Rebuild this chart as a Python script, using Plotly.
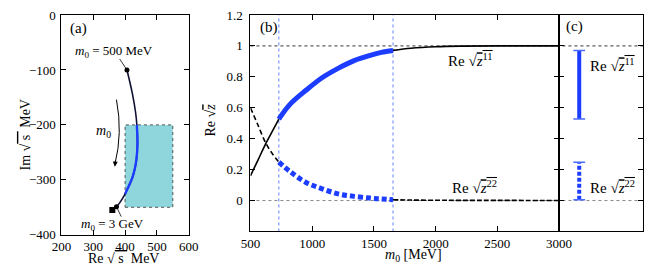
import plotly.graph_objects as go

# ---------------- data ----------------
# panel (a): pole trajectory in complex sqrt(s) plane [MeV]
traj_re = [406, 423, 433, 437, 439, 436, 431, 423, 408, 400, 393, 383, 373]
traj_im = [-100, -143, -177, -200, -234, -262, -279, -296, -316, -326, -333, -342, -349]
end_square = ([360], [-355])
box_re = [400, 550]
box_im = [-350, -200]

# panel (b): Re sqrt(z) vs m0 [MeV]
m0 = [500, 560, 625, 680, 730, 820, 950, 1080, 1210, 1340, 1470, 1560, 1655,
      1800, 2000, 2200, 2500, 3000]
re_z11 = [0.16, 0.26, 0.37, 0.452, 0.527, 0.622, 0.713, 0.794, 0.855, 0.905,
          0.939, 0.958, 0.971, 0.985, 0.995, 0.999, 1.0, 1.0]
re_z22 = [0.60, 0.49, 0.37, 0.30, 0.248, 0.188, 0.117, 0.076, 0.043, 0.027,
          0.016, 0.010, 0.005, 0.003, 0.002, 0.001, 0.001, 0.0]
m_lo, m_hi = 730, 1655

x_ticks_a = [200, 300, 400, 500, 600]
y_ticks_a = [-400, -300, -200, -100, 0]
x_ticks_b = [500, 1000, 1500, 2000, 2500, 3000]
y_ticks_b = [-0.2, 0, 0.2, 0.4, 0.6, 0.8, 1.0, 1.2]
y_text_b = ["", "0", "0.2", "0.4", "0.6", "0.8", "1", "1.2"]

BLUE = "#1c3dff"
CYAN = "#8ed6db"
FONT = "Liberation Serif"
PAGE_W, PAGE_H = 664, 280
BODY = 8  # default page margin around the figure
W, H = PAGE_W - 2 * BODY, PAGE_H - 2 * BODY


def px(p):
    return min(1.0, max(0.0, (p - BODY) / W))


def py(p):
    return min(1.0, max(0.0, 1 - (p - BODY) / H))


ol = lambda s: "<span style='text-decoration:overline'>" + s + "</span>"

fig = go.Figure()

# ---- panel (a) ----
fig.add_trace(go.Scatter(
    x=[box_re[0], box_re[1], box_re[1], box_re[0], box_re[0]],
    y=[box_im[0], box_im[0], box_im[1], box_im[1], box_im[0]],
    fill="toself", fillcolor=CYAN, mode="lines",
    line=dict(color="#555555", width=1, dash="dot"),
    xaxis="x", yaxis="y", hoverinfo="skip"))
fig.add_trace(go.Scatter(x=traj_re, y=traj_im, mode="lines",
                         line=dict(color="#111133", width=1.6, shape="spline"),
                         xaxis="x", yaxis="y"))
blue_idx = [i for i in range(len(traj_re)) if traj_re[i] >= box_re[0] and traj_im[i] <= box_im[1]]
fig.add_trace(go.Scatter(x=[traj_re[i] for i in blue_idx], y=[traj_im[i] for i in blue_idx],
                         mode="lines", line=dict(color=BLUE, width=2.4, shape="spline"),
                         xaxis="x", yaxis="y"))
fig.add_trace(go.Scatter(x=[traj_re[0], traj_re[-1]], y=[traj_im[0], traj_im[-1]],
                         mode="markers", marker=dict(color="black", size=5),
                         xaxis="x", yaxis="y"))
fig.add_trace(go.Scatter(x=end_square[0], y=end_square[1], mode="markers",
                         marker=dict(color="black", size=6, symbol="square"),
                         xaxis="x", yaxis="y"))

# ---- panel (b) ----
def seg(xs, ys, lo, hi):
    return ([x for x in xs if lo <= x <= hi], [y for x, y in zip(xs, ys) if lo <= x <= hi])

for lo, hi, col, w in [(500, m_lo, "black", 1.6), (m_hi, 3000, "black", 1.6), (m_lo, m_hi, BLUE, 5)]:
    xs, ys = seg(m0, re_z11, lo, hi)
    fig.add_trace(go.Scatter(x=xs, y=ys, mode="lines",
                             line=dict(color=col, width=w, shape="spline"),
                             xaxis="x2", yaxis="y2"))
for lo, hi, col, w, d in [(500, m_lo, "black", 1.6, "5px,3px"), (m_hi, 3000, "black", 1.6, "5px,2px"),
                          (m_lo, m_hi, BLUE, 5, "5px,3px")]:
    xs, ys = seg(m0, re_z22, lo, hi)
    fig.add_trace(go.Scatter(x=xs, y=ys, mode="lines",
                             line=dict(color=col, width=w, shape="spline", dash=d),
                             xaxis="x2", yaxis="y2"))

# ---- panel (c): ranges ----
xc = 0.24
cap = 0.07
blue11 = [v for x, v in zip(m0, re_z11) if m_lo <= x <= m_hi]
blue22 = [v for x, v in zip(m0, re_z22) if m_lo <= x <= m_hi]
for vals, dash in [(blue11, "solid"), (blue22, "4px,2px")]:
    lo_v, hi_v = min(vals), max(vals)
    fig.add_trace(go.Scatter(x=[xc, xc], y=[lo_v, hi_v], mode="lines",
                             line=dict(color=BLUE, width=4, dash=dash),
                             xaxis="x3", yaxis="y3"))
    for v in (lo_v, hi_v):
        fig.add_trace(go.Scatter(x=[xc - cap, xc + cap], y=[v, v], mode="lines",
                                 line=dict(color="#4a6bff", width=1.5),
                                 xaxis="x3", yaxis="y3"))

# ---- layout ----
def axis(**kw):
    d = dict(showline=True, linecolor="black", linewidth=1, mirror="ticks",
             ticks="inside", ticklen=5, tickcolor="black", showgrid=False,
             zeroline=False, ticklabeloverflow="allow",
             tickfont=dict(family=FONT, size=13, color="black"))
    d.update(kw)
    return d


fig.update_layout(
    width=W, height=H, margin=dict(l=0, r=0, t=0, b=0),
    paper_bgcolor="white", plot_bgcolor="white", showlegend=False,
    font=dict(family=FONT, size=13, color="black"),
    xaxis=axis(domain=[px(53), px(185)], range=[200, 600], tickvals=x_ticks_a, anchor="y"),
    yaxis=axis(domain=[py(241), py(8)], range=[-400, 0.01], tickvals=y_ticks_a, anchor="x",
               ticklabelstandoff=2),
    xaxis2=axis(domain=[px(249), px(569)], range=[500, 3000], tickvals=x_ticks_b, anchor="y2"),
    yaxis2=axis(domain=[py(237.5), py(8)], range=[-0.2, 1.20001], tickvals=y_ticks_b,
                ticktext=y_text_b, anchor="x2", ticklabelstandoff=4),
    xaxis3=axis(domain=[px(569), px(661)], range=[0, 1], ticks="", showticklabels=False,
                anchor="y3"),
    yaxis3=axis(domain=[py(237.5), py(8)], range=[-0.2, 1.20001], tickvals=y_ticks_b,
                showticklabels=False, anchor="x3"),
)

shapes = []
# arrow curve in (a)
shapes.append(dict(type="path", xref="x", yref="y", path="M 373,-154 Q 393,-215 368,-272",
                   line=dict(color="black", width=1)))
# leader lines in (a)
shapes.append(dict(type="line", xref="x", yref="y", x0=383, y0=-80, x1=traj_re[0], y1=traj_im[0],
                   line=dict(color="black", width=0.8)))
shapes.append(dict(type="line", xref="x", yref="y", x0=traj_re[-1], y0=traj_im[-1], x1=388, y1=-367,
                   line=dict(color="black", width=0.8)))
# horizontal reference lines across (b) and (c)
for v, col in [(1.0, "#333333"), (0.0, "#888888")]:
    shapes.append(dict(type="line", xref="paper", yref="y2", x0=px(249), x1=px(661), y0=v, y1=v,
                       line=dict(color=col, width=1, dash="dot"), layer="below"))
# vertical blue dotted lines at m_lo, m_hi
for m in (m_lo, m_hi):
    shapes.append(dict(type="line", xref="x2", yref="paper", x0=m, x1=m, y0=py(237.5), y1=py(8),
                       line=dict(color="#5f82ff", width=1, dash="dot"), layer="below"))
fig.update_layout(shapes=shapes)

ann = []


def A(text, x, y, size=14, xref="paper", yref="paper", **kw):
    d = dict(text=text, x=x, y=y, xref=xref, yref=yref, showarrow=False,
             font=dict(family=FONT, size=size, color="black"), xanchor="center", yanchor="middle")
    d.update(kw)
    ann.append(d)


A("(a)", px(71), py(22), 15)
A("(b)", px(268), py(21), 15)
A("(c)", px(585), py(20), 15)
A("<i>m</i><sub>0</sub> = 500 MeV", px(108), py(47), 13)
A("<i>m</i><sub>0</sub> = 3 GeV", px(106), py(230), 13)
A("<i>m</i><sub>0</sub>", px(97), py(132), 14)
A("Re √" + ol(" s ") + " MeV", px(117), py(266), 14)
A("Im √" + ol(" s ") + " MeV", px(16), py(135), 14, textangle=-90)
A("Re √" + ol("<i>z</i>"), px(208), py(119), 14, textangle=-90)
A("<i>m</i><sub>0</sub> [MeV]", px(418), py(263), 14)
A("Re √" + ol("<i>z</i><sup>11</sup>"), px(477), py(56), 15)
A("Re √" + ol("<i>z</i><sup>22</sup>"), px(481), py(190), 15)
A("Re √" + ol("<i>z</i><sup>11</sup>"), px(624), py(61), 15)
A("Re √" + ol("<i>z</i><sup>22</sup>"), px(624), py(190), 15)
# arrowhead of m0 arrow
ann.append(dict(x=368, y=-276, ax=370, ay=-262, xref="x", yref="y", axref="x", ayref="y",
                showarrow=True, arrowhead=2, arrowsize=1, arrowwidth=1, arrowcolor="black", text=""))
fig.update_layout(annotations=ann)

fig.write_html("out.html", config={"displayModeBar": False})
